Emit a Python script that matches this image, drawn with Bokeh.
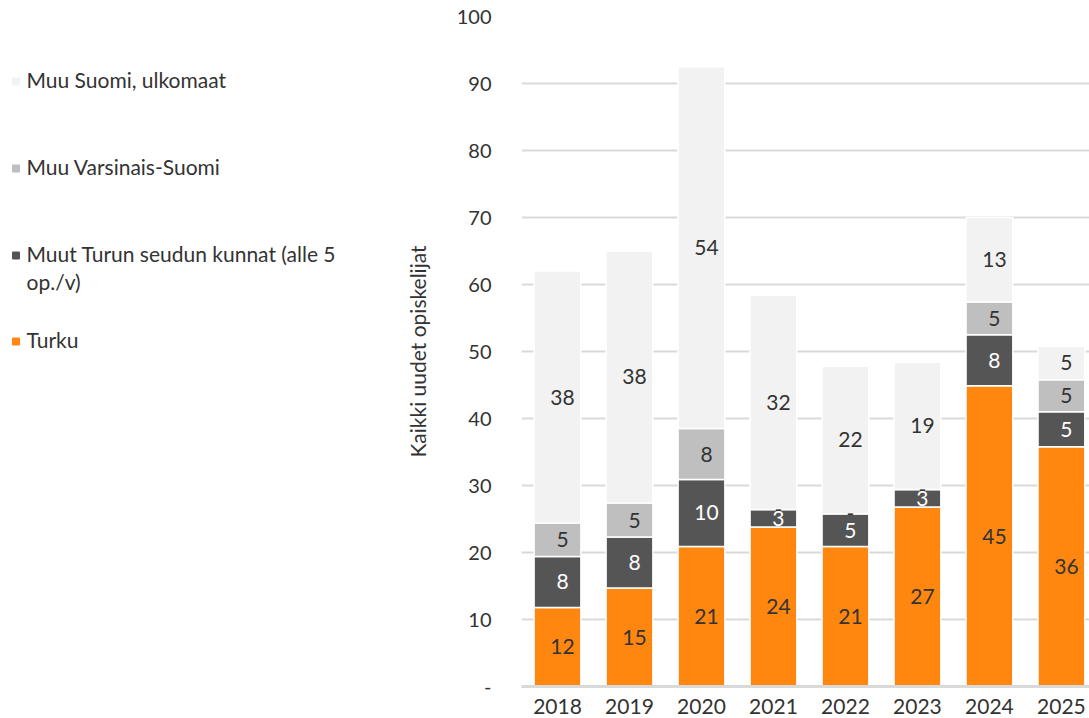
import textwrap
from bokeh.plotting import figure
from bokeh.layouts import row
from bokeh.models import ColumnDataSource, FixedTicker, Range1d
from bokeh.core.properties import value
from bokeh.embed import file_html
from bokeh.resources import INLINE

# ---------------- data ----------------
years = ["2018", "2019", "2020", "2021", "2022", "2023", "2024", "2025"]
turku = [11.8, 14.7, 20.9, 23.8, 20.9, 26.8, 44.9, 35.8]
muut_turun_seutu = [7.6, 7.6, 10.0, 2.6, 4.9, 2.6, 7.6, 5.2]
muu_varsinais_suomi = [5.0, 5.1, 7.6, 0.0, 0.0, 0.0, 4.9, 4.8]
muu_suomi_ulkomaat = [37.6, 37.6, 54.0, 32.0, 22.0, 19.0, 12.6, 5.0]

series_names = ["Turku",
                "Muut Turun seudun kunnat (alle 5 op./v)",
                "Muu Varsinais-Suomi",
                "Muu Suomi, ulkomaat"]
series_values = [turku, muut_turun_seutu, muu_varsinais_suomi, muu_suomi_ulkomaat]
y_ticks = list(range(0, 101, 10))
y_title = "Kaikki uudet opiskelijat"

# ---------------- style ----------------
colors = ["#FF870F", "#555555", "#BFBFBF", "#F2F2F2"]
label_colors = ["#333333", "#FFFFFF", "#333333", "#333333"]
FONT = "Lato"
TXT = "#333333"
GRID = "#D9D9D9"

# ---------------- main chart ----------------
xs = list(range(len(years)))
keys = ["s%d" % i for i in range(len(series_names))]
data = {"x": xs}
for k, v in zip(keys, series_values):
    data[k] = v
source = ColumnDataSource(data)

p = figure(width=689, height=718, x_range=Range1d(-0.5, 7.39), y_range=Range1d(0, 100),
           output_backend="svg", toolbar_location=None,
           min_border_left=121, min_border_right=0, min_border_top=16, min_border_bottom=32)
p.outline_line_color = None
p.background_fill_color = "white"
p.border_fill_color = "white"

p.vbar_stack(keys, x="x", width=0.65, color=colors, source=source,
             line_color="white", line_width=1.5)

# data labels
lx, ly, lt, lc = [], [], [], []
for i in xs:
    base = 0.0
    for s, vals in enumerate(series_values):
        v = vals[i]
        lx.append(i)
        ly.append(base + v / 2.0)
        lt.append("-" if v == 0 else str(int(round(v))))
        lc.append(label_colors[s] if v != 0 else TXT)
        base += v
p.text(x=lx, y=ly, text=lt, text_color=lc, x_offset=5,
       text_align="center", text_baseline="middle",
       text_font=value(FONT), text_font_size="21px")

# axes
p.xaxis.ticker = FixedTicker(ticks=xs)
p.xaxis.major_label_overrides = {i: y for i, y in zip(xs, years)}
p.xaxis.major_tick_line_color = None
p.xaxis.minor_tick_line_color = None
p.xaxis.axis_line_color = GRID
p.xaxis.axis_line_width = 3
p.xaxis.major_label_standoff = 6
p.xaxis.major_label_text_font = FONT
p.xaxis.major_label_text_font_size = "21px"
p.xaxis.major_label_text_color = TXT

p.yaxis.ticker = FixedTicker(ticks=y_ticks)
p.yaxis.major_label_overrides = {0: "-"}
p.yaxis.axis_line_color = None
p.yaxis.major_tick_line_color = None
p.yaxis.minor_tick_line_color = None
p.yaxis.major_label_standoff = 24
p.yaxis.major_label_text_font = FONT
p.yaxis.major_label_text_font_size = "20px"
p.yaxis.major_label_text_color = TXT
p.yaxis.axis_label = y_title
p.yaxis.axis_label_text_font = FONT
p.yaxis.axis_label_text_font_style = "normal"
p.yaxis.axis_label_text_font_size = "21px"
p.yaxis.axis_label_text_color = TXT
p.yaxis.axis_label_standoff = 24

p.xgrid.grid_line_color = None
p.ygrid.grid_line_color = GRID
p.ygrid.grid_line_width = 2

# ---------------- legend panel ----------------
# (row() aligns this frame with the chart frame: page y 16..686)
lf = figure(width=400, height=718, x_range=Range1d(0, 400), y_range=Range1d(686, 16),
            output_backend="svg", toolbar_location=None,
            x_axis_location=None, y_axis_location=None,
            min_border=0, min_border_left=0, min_border_right=0,
            min_border_top=0, min_border_bottom=0)
lf.outline_line_color = None
lf.xgrid.grid_line_color = None
lf.ygrid.grid_line_color = None

legend_order = [3, 2, 1, 0]
legend_y = [79, 166, 253, 339]
line_gap = 28
sq_x, sq_y, sq_c = [], [], []
tx, ty, tt = [], [], []
for pos, s in zip(legend_y, legend_order):
    sq_x.append(15.5)
    sq_y.append(pos + 2)
    sq_c.append(colors[s])
    for j, line in enumerate(textwrap.wrap(series_names[s], 32)):
        tx.append(26)
        ty.append(pos + j * line_gap)
        tt.append(line)
lf.rect(x=sq_x, y=sq_y, width=7, height=7, color=sq_c)
lf.text(x=tx, y=ty, text=tt, text_color=TXT, text_align="left", text_baseline="middle",
        text_font=value(FONT), text_font_size="21px")

layout = row(lf, p)
open("out.html", "w").write(file_html(layout, INLINE))
